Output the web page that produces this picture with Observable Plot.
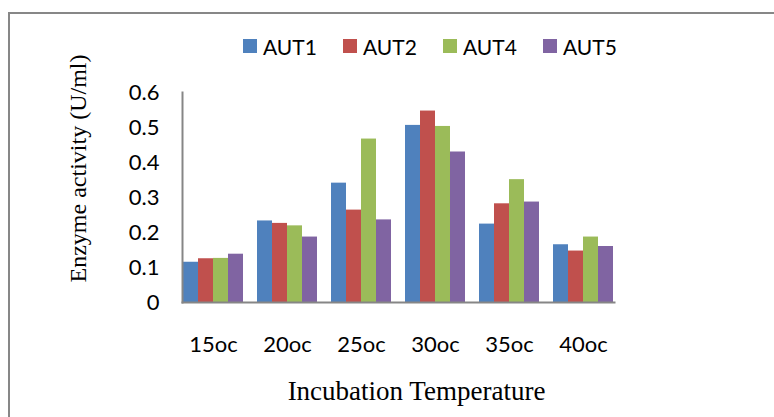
<!DOCTYPE html>
<html>
<head>
<meta charset="utf-8">
<script src="https://cdn.jsdelivr.net/npm/d3@7"></script>
<script src="https://cdn.jsdelivr.net/npm/@observablehq/plot@0.6"></script>
<style>
  html, body { margin: 0; padding: 0; background: #fff; }
  #wrap { position: relative; width: 774px; height: 417px; overflow: hidden; background: #fff; }
  #border { position: absolute; left: 8px; top: 12px; width: 800px; height: 440px;
            border-left: 2px solid #878787; border-top: 2px solid #878787; pointer-events: none; }
  #legend { height: 60px; box-sizing: border-box; padding-top: 32px; padding-left: 243px;
            display: flex; align-items: center; font-family: Lato, sans-serif; font-size: 21px; color: #000; }
  .item { display: flex; align-items: center; width: 100px; height: 24px; }
  .sw { width: 14px; height: 14px; margin-right: 6px; flex: none; }
  svg { display: block; }
</style>
</head>
<body>
<div id="wrap">
  <div id="legend"></div>
  <div id="chart"></div>
  <div id="border"></div>
</div>
<script>
const categories = ["15oc", "20oc", "25oc", "30oc", "35oc", "40oc"];
const series = ["AUT1", "AUT2", "AUT4", "AUT5"];
const AUT1 = [0.115, 0.233, 0.341, 0.506, 0.224, 0.165];
const AUT2 = [0.125, 0.226, 0.264, 0.547, 0.282, 0.147];
const AUT4 = [0.126, 0.219, 0.467, 0.503, 0.351, 0.187];
const AUT5 = [0.138, 0.187, 0.236, 0.430, 0.287, 0.160];
const colors = ["#4F81BD", "#C0504D", "#9BBB59", "#8064A2"];
const yTicks = [0, 0.1, 0.2, 0.3, 0.4, 0.5, 0.6];
const yTickLabels = ["0", "0.1", "0.2", "0.3", "0.4", "0.5", "0.6"];
const xTitle = "Incubation Temperature";
const yTitle = "Enzyme activity (U/ml)";

const valuesBySeries = {AUT1, AUT2, AUT4, AUT5};
const data = [];
categories.forEach((c, i) => series.forEach(s => data.push({cat: c, series: s, value: valuesBySeries[s][i]})));

// legend
const legend = document.getElementById("legend");
series.forEach((s, i) => {
  const it = document.createElement("div");
  it.className = "item";
  const sw = document.createElement("span");
  sw.className = "sw";
  sw.style.background = colors[i];
  it.appendChild(sw);
  it.appendChild(document.createTextNode(s));
  legend.appendChild(it);
});

const axisColor = "#868686";

const chart = Plot.plot({
  width: 774,
  height: 357,
  marginTop: 32,
  marginBottom: 115,
  marginLeft: 176,
  marginRight: 154,
  style: {fontFamily: "Lato, sans-serif", background: "transparent", color: "#000", overflow: "visible"},
  fx: {domain: categories, paddingInner: 0.16, paddingOuter: 0.08, axis: null},
  x: {domain: series, padding: 0, axis: null},
  y: {domain: [0, 0.6], axis: null},
  color: {domain: series, range: colors},
  marks: [
    Plot.barY(data, {fx: "cat", x: "series", y: "value", fill: "series"}),
    Plot.frame({anchor: "bottom", stroke: axisColor, strokeWidth: 2, facet: "super"}),
    Plot.frame({anchor: "left", stroke: axisColor, strokeWidth: 2, facet: "super"}),
    Plot.axisFx({anchor: "bottom", tickSize: 0, tickPadding: 34, fontSize: 22, label: null}),
    Plot.axisY({ticks: yTicks, tickFormat: d => yTickLabels[yTicks.indexOf(d)], tickSize: 0, tickPadding: 23, fontSize: 22, label: null}),
    Plot.text([xTitle], {frameAnchor: "bottom", dx: 18, dy: 97, lineAnchor: "bottom", fontSize: 27,
      fontFamily: "Liberation Serif, serif", facet: "super"}),
    Plot.text([yTitle], {frameAnchor: "left", rotate: -90, dx: -104, dy: -29, lineAnchor: "middle", textAnchor: "middle",
      fontSize: 24, fontFamily: "Liberation Serif, serif", facet: "super"})
  ]
});
document.getElementById("chart").appendChild(chart);
</script>
</body>
</html>
